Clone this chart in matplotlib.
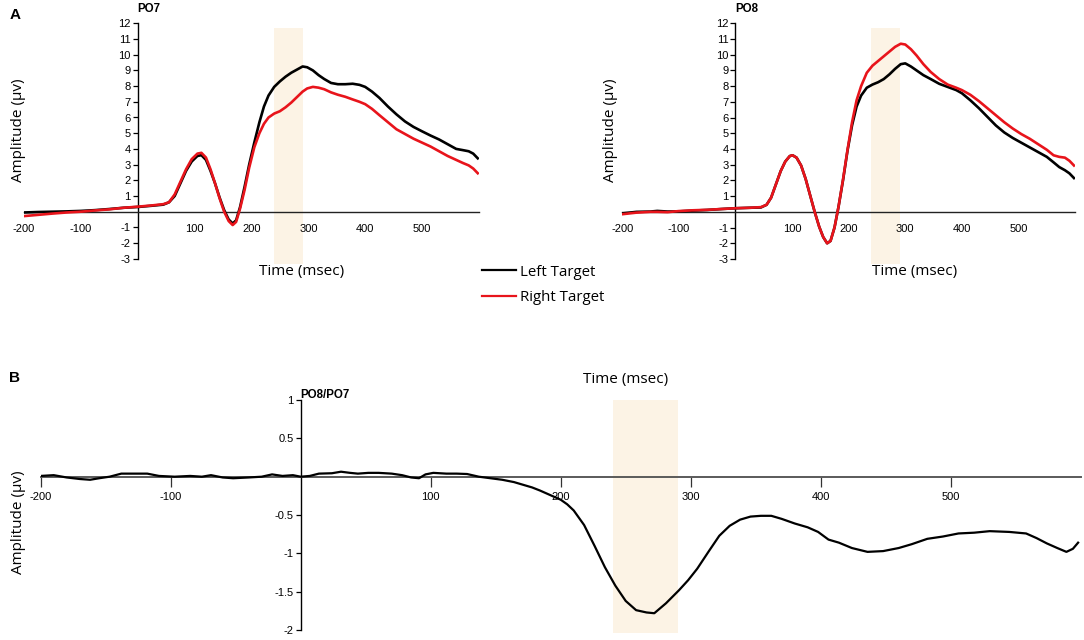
import numpy as np
import matplotlib
matplotlib.use("Agg")
import matplotlib.pyplot as plt

plt.rcParams['font.family'] = ['Liberation Sans', 'DejaVu Sans']
plt.rcParams['axes.unicode_minus'] = False

# PO7 (left hemisphere) waveforms
t_po7 = [-200, -175, -150, -125, -100, -75, -50, -25, 0, 25, 45, 55, 65, 75, 85, 95,
         105, 112, 120, 128, 136, 144, 152, 160, 167, 173, 180, 188, 196, 205, 214,
         222, 230, 240, 250, 260, 270, 280, 290, 298, 308, 318, 328, 340, 352, 365,
         378, 390, 400, 412, 425, 440, 455, 470, 485, 500, 515, 530, 545, 560, 572,
         582, 590, 598]
po7_left = [-0.05, -0.02, 0.0, 0.02, 0.05, 0.1, 0.17, 0.25, 0.3, 0.38, 0.45, 0.6, 1.0,
            1.8, 2.6, 3.2, 3.55, 3.6, 3.3, 2.6, 1.8, 0.9, 0.1, -0.5, -0.75, -0.55, 0.3,
            1.6, 3.0, 4.4, 5.7, 6.7, 7.4, 7.95, 8.3, 8.6, 8.85, 9.05, 9.25, 9.2, 9.0,
            8.7, 8.45, 8.2, 8.12, 8.12, 8.15, 8.08, 7.95, 7.65, 7.25, 6.7, 6.2, 5.75,
            5.4, 5.12, 4.85, 4.6, 4.3, 4.0, 3.92, 3.85, 3.7, 3.4]
po7_right = [-0.28, -0.2, -0.12, -0.05, 0.0, 0.08, 0.15, 0.25, 0.32, 0.4, 0.48, 0.6, 1.1,
             1.9, 2.7, 3.35, 3.7, 3.75, 3.45, 2.7, 1.8, 0.85, 0.0, -0.6, -0.85, -0.65, 0.2,
             1.4, 2.8, 4.1, 5.0, 5.6, 6.0, 6.25, 6.4, 6.65, 6.95, 7.3, 7.65, 7.85, 7.95,
             7.9, 7.8, 7.6, 7.45, 7.32, 7.15, 7.0, 6.85, 6.55, 6.15, 5.7, 5.25, 4.95,
             4.65, 4.4, 4.15, 3.85, 3.55, 3.3, 3.1, 2.95, 2.75, 2.45]

# PO8 (right hemisphere) waveforms
t_po8 = [-200, -175, -150, -138, -120, -100, -75, -50, -25, 0, 25, 45, 55, 63, 72, 80,
         88, 96, 101, 108, 116, 124, 132, 140, 148, 155, 162, 168, 175, 182, 190, 198,
         206, 214, 222, 232, 242, 252, 262, 272, 282, 292, 300, 310, 320, 332, 345,
         360, 375, 390, 400, 415, 430, 445, 460, 475, 490, 505, 520, 535, 550, 562,
         572, 582, 590, 598]
po8_left = [-0.1, 0.0, 0.02, 0.06, 0.02, 0.03, 0.08, 0.12, 0.18, 0.23, 0.26, 0.28, 0.45,
            0.9, 1.8, 2.6, 3.2, 3.55, 3.6, 3.45, 2.95, 2.1, 1.05, 0.0, -0.95, -1.6, -2.0,
            -1.85, -1.0, 0.3, 2.0, 3.9, 5.5, 6.7, 7.4, 7.9, 8.1, 8.25, 8.45, 8.75, 9.1,
            9.4, 9.45, 9.25, 9.0, 8.7, 8.45, 8.15, 7.95, 7.75, 7.55, 7.1, 6.6, 6.05, 5.5,
            5.05, 4.7, 4.4, 4.1, 3.8, 3.5, 3.15, 2.85, 2.65, 2.45, 2.15]
po8_right = [-0.15, -0.05, 0.0, 0.0, -0.02, 0.05, 0.1, 0.13, 0.18, 0.23, 0.26, 0.3, 0.45,
             0.9, 1.8, 2.6, 3.2, 3.55, 3.6, 3.45, 2.95, 2.1, 1.05, 0.0, -0.95, -1.6, -2.0,
             -1.85, -1.0, 0.3, 2.05, 3.95, 5.7, 7.1, 8.0, 8.85, 9.3, 9.6, 9.9, 10.2, 10.5,
             10.7, 10.65, 10.35, 9.95, 9.4, 8.9, 8.45, 8.1, 7.9, 7.75, 7.45, 7.05, 6.6,
             6.15, 5.7, 5.3, 4.95, 4.65, 4.3, 3.95, 3.6, 3.5, 3.45, 3.25, 2.95]

# PO8/PO7 difference wave
t_diff = [-200, -190, -180, -170, -162, -155, -147, -138, -128, -118, -109, -97, -85,
          -76, -69, -60, -52, -40, -30, -22, -14, -6, 0, 7, 14, 24, 31, 38, 44, 52, 60,
          70, 78, 85, 91, 96, 102, 112, 120, 128, 137, 146, 155, 164, 172, 178, 184,
          192, 200, 205, 210, 218, 226, 234, 242, 250, 258, 266, 272, 281, 291, 298,
          305, 314, 322, 330, 338, 346, 354, 362, 370, 380, 390, 398, 406, 414, 424,
          436, 448, 460, 470, 482, 494, 506, 518, 530, 545, 558, 566, 574, 582, 589,
          594, 598]
diff = [0.01, 0.02, -0.01, -0.03, -0.04, -0.02, 0.0, 0.04, 0.04, 0.04, 0.01, 0.0, 0.01,
        0.0, 0.02, -0.01, -0.02, -0.01, 0.0, 0.03, 0.01, 0.02, 0.0, 0.01, 0.04, 0.045,
        0.065, 0.05, 0.04, 0.05, 0.05, 0.04, 0.02, -0.01, -0.02, 0.03, 0.05, 0.04, 0.04,
        0.035, 0.0, -0.02, -0.04, -0.07, -0.11, -0.14, -0.18, -0.24, -0.30, -0.36,
        -0.44, -0.63, -0.9, -1.18, -1.42, -1.62, -1.74, -1.77, -1.78, -1.65, -1.48,
        -1.35, -1.2, -0.97, -0.77, -0.64, -0.56, -0.52, -0.51, -0.51, -0.55, -0.61,
        -0.66, -0.72, -0.82, -0.86, -0.93, -0.98, -0.97, -0.93, -0.88, -0.81, -0.78,
        -0.74, -0.73, -0.71, -0.72, -0.74, -0.8, -0.87, -0.93, -0.98, -0.94, -0.86]

window = (240, 290)
top_xticks = [-200, -100, 100, 200, 300, 400, 500]
top_yticks = [-3, -2, -1, 1, 2, 3, 4, 5, 6, 7, 8, 9, 10, 11, 12]
bot_yticks = [-2, -1.5, -1, -0.5, 0.5, 1]
bot_yticklabels = ['-2', '-1.5', '-1', '-0.5', '0.5', '1']

shade = '#fcf3e5'
red = '#e8141b'
label_font = dict(family=['Open Sans', 'DejaVu Sans'], fontsize=11)

fig = plt.figure(figsize=(10.84, 6.4), dpi=100)
W, H = 1084, 640


def rect(left, right, top, bottom):
    return [left / W, 1 - bottom / H, (right - left) / W, (bottom - top) / H]


def setup_axes(ax):
    for s in ['top', 'right']:
        ax.spines[s].set_visible(False)
    ax.spines['left'].set_position(('data', 0))
    ax.spines['bottom'].set_position(('data', 0))
    ax.patch.set_alpha(0)


# ---- top panels ----
panels = [
    (rect(24, 478.9, 23.3, 258.8), t_po7, po7_left, po7_right, 'PO7', 149, 19, 302),
    (rect(622.2, 1075.1, 23.3, 259), t_po8, po8_left, po8_right, 'PO8', 747, 610, 915),
]
for pos, t, left_vals, right_vals, name, name_x, ylab_x, xlab_x in panels:
    ax = fig.add_axes(pos)
    setup_axes(ax)
    ax.set_xlim(-200, 600)
    ax.set_ylim(-3, 12)
    ax.axvspan(window[0], window[1], ymin=-0.02, ymax=0.98, color=shade, zorder=0,
               clip_on=False, lw=0)
    ax.plot(t, left_vals, color='black', lw=1.9, zorder=3, label='Left Target',
            solid_joinstyle='round')
    ax.plot(t, right_vals, color=red, lw=1.9, zorder=4, label='Right Target',
            solid_joinstyle='round')
    ax.set_xticks(top_xticks)
    ax.set_yticks(top_yticks)
    ax.tick_params(axis='x', length=0, pad=8.5, labelsize=8)
    ax.tick_params(axis='y', length=3.5, width=0.9, pad=1.5, labelsize=8)
    ax.spines['left'].set_linewidth(1.0)
    ax.spines['bottom'].set_linewidth(1.0)
    ax.spines['bottom'].set_color('#222222')
    fig.text(name_x / W, 1 - 9 / H, name, fontsize=8.3, fontweight='bold',
             ha='center', va='center')
    fig.text(ylab_x / W, 1 - 130 / H, 'Amplitude (µv)', rotation=90,
             ha='center', va='center', **label_font)
    fig.text(xlab_x / W, 1 - 272 / H, 'Time (msec)', ha='center', va='center',
             **label_font)
    if name == 'PO7':
        handles, labels = ax.get_legend_handles_labels()

leg = fig.legend(handles, labels, loc='upper left',
                 bbox_to_anchor=(468 / W, 1 - 251 / H), frameon=False,
                 handlelength=2.3, handletextpad=0.3, labelspacing=0.7,
                 prop={'family': ['Open Sans', 'DejaVu Sans'], 'size': 10.8})
for line in leg.get_lines():
    line.set_linewidth(1.6)

# ---- bottom panel ----
axb = fig.add_axes(rect(40.7, 1080.7, 400, 630.1))
setup_axes(axb)
axb.set_xlim(-200, 600)
axb.set_ylim(-2, 1)
axb.axvspan(window[0], window[1], ymin=-0.013, ymax=1.0, color=shade, zorder=0,
            clip_on=False, lw=0)
axb.plot(t_diff, diff, color='black', lw=1.6, zorder=3, solid_joinstyle='round')
axb.set_xticks(top_xticks)
axb.set_yticks(bot_yticks)
axb.set_yticklabels(bot_yticklabels)
axb.tick_params(axis='x', direction='out', length=7.5, width=0.9, pad=3.5,
                labelsize=8, color='#333333')
axb.tick_params(axis='y', length=3.5, width=0.9, pad=1.5, labelsize=8)
axb.spines['bottom'].set_color('#5a5a5a')
axb.spines['bottom'].set_linewidth(1.4)
axb.spines['left'].set_linewidth(1.0)

fig.text(300 / W, 1 - 394.5 / H, 'PO8/PO7', fontsize=8.3, fontweight='bold',
         ha='left', va='center')
fig.text(19 / W, 1 - 522 / H, 'Amplitude (µv)', rotation=90, ha='center',
         va='center', **label_font)
fig.text(626 / W, 1 - 380 / H, 'Time (msec)', ha='center', va='center', **label_font)

fig.text(15 / W, 1 - 15 / H, 'A', fontsize=11, fontweight='bold', ha='center', va='center')
fig.text(14 / W, 1 - 378 / H, 'B', fontsize=11, fontweight='bold', ha='center', va='center')

fig.savefig('out.png', dpi=100)
